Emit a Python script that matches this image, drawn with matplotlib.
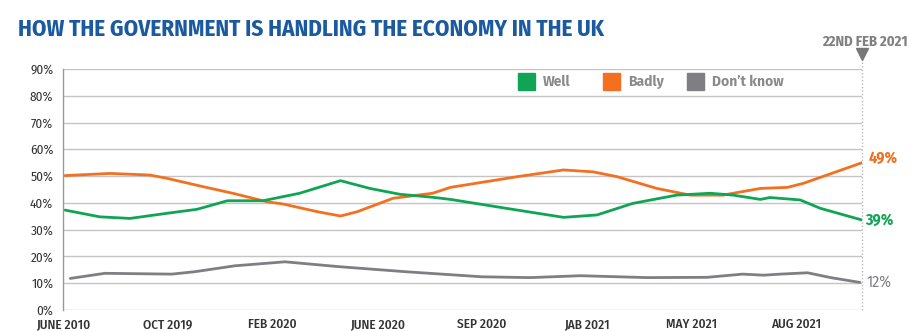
import matplotlib.pyplot as plt
from matplotlib import font_manager

# ================================
# DATA (x in tick units, 0 = JUNE 2010 tick)
# ================================
tick_labels = ['JUNE 2010', 'OCT 2019', 'FEB 2020', 'JUNE 2020',
               'SEP 2020', 'JAB 2021', 'MAY 2021', 'AUG 2021']
x_end = 7.63

well_x = [0.02, 0.35, 0.64, 0.99, 1.28, 1.57, 1.91, 2.26, 2.65, 2.93, 3.22,
          3.53, 3.70, 4.34, 4.78, 5.10, 5.44, 5.86, 6.18, 6.40, 6.66, 6.75,
          7.04, 7.23, 7.63]
well_y = [37.3, 34.8, 34.2, 36.1, 37.6, 40.8, 40.8, 43.6, 48.3, 45.4, 43.2,
          42.1, 41.3, 37.3, 34.6, 35.5, 39.8, 42.9, 43.6, 42.9, 41.3, 42.0,
          41.1, 38.0, 33.6]

badly_x = [0.02, 0.45, 0.83, 0.99, 1.31, 1.62, 1.95, 2.10, 2.43, 2.65, 2.81,
           3.15, 3.53, 3.70, 4.34, 4.78, 5.06, 5.29, 5.67, 5.99, 6.30, 6.66,
           6.92, 7.07, 7.63]
badly_y = [50.2, 51.0, 50.4, 49.2, 46.3, 43.6, 40.4, 39.6, 36.7, 35.1, 36.7,
           41.7, 43.6, 45.8, 49.8, 52.3, 51.6, 49.8, 45.4, 42.9, 42.9, 45.4,
           45.8, 47.3, 55.0]

dk_x = [0.07, 0.40, 1.04, 1.26, 1.64, 2.12, 2.63, 3.27, 4.00, 4.46, 4.94,
        5.58, 6.15, 6.49, 6.69, 6.85, 7.11, 7.33, 7.61]
dk_y = [11.8, 13.7, 13.4, 14.3, 16.5, 18.0, 16.2, 14.3, 12.4, 12.1, 12.8,
        12.1, 12.2, 13.4, 13.0, 13.4, 13.9, 12.1, 10.3]

end_labels = ['49%', '39%', '12%']
legend_labels = ['Well', 'Badly', 'Don’t know']
title = 'HOW THE GOVERNMENT IS HANDLING THE ECONOMY IN THE UK'
date_label = '22ND FEB 2021'

GREEN = '#10a555'
ORANGE = '#f37021'
GREY = '#7f7f83'
BLUE = '#1b5aa0'

# pick installed fonts
names = set(f.name for f in font_manager.fontManager.ttflist)
def pick(cands):
    for c in cands:
        if c in names:
            return c
    return 'DejaVu Sans'

COND = pick(['Fira Sans Condensed', 'Roboto Condensed', 'Barlow Semi Condensed',
             'PT Sans Narrow', 'Archivo Narrow', 'Liberation Sans'])
HUMAN = pick(['Fira Sans', 'Source Sans 3', 'Source Sans Pro', 'Open Sans'])
plt.rcParams['font.family'] = [COND, 'DejaVu Sans']

# ================================
# PLOT
# ================================
fig = plt.figure(figsize=(9.12, 3.31), dpi=100)
ax = fig.add_axes([63/912, 1 - 310/331, (862-63)/912, (310-69)/331])

ax.plot(dk_x, dk_y, color=GREY, lw=2.0, solid_capstyle='round')
ax.plot(badly_x, badly_y, color=ORANGE, lw=2.0, solid_capstyle='round')
ax.plot(well_x, well_y, color=GREEN, lw=2.0, solid_capstyle='round')

ax.set_xlim(0, x_end)
ax.set_ylim(0, 90)
ax.set_yticks(range(0, 91, 10))
ax.set_yticklabels([f'{v}%' for v in range(0, 91, 10)])
ax.set_xticks(range(len(tick_labels)))
ax.set_xticklabels(tick_labels, fontweight='medium')
ax.tick_params(length=0, labelsize=9.5, colors='#333333')
ax.tick_params(axis='x', pad=6)
ax.tick_params(axis='y', pad=7)
ax.yaxis.grid(True, color='#c4c4c4', lw=1)
ax.set_axisbelow(True)
for s in ['top', 'right', 'bottom']:
    ax.spines[s].set_visible(False)
ax.spines['left'].set_color('#999999')
ax.spines['left'].set_linewidth(1)

# dotted marker line for 22nd Feb 2021
ax.plot([x_end, x_end], [0, 93], color='#bbbbbb', lw=1, ls=(0, (1, 1.5)),
        clip_on=False)
ax.plot([x_end], [95.5], marker='v', color='#777777', markersize=8,
        clip_on=False)
t_date = fig.text(908/912, 1 - 42/331, date_label, ha='right', va='center',
                  fontsize=10.5, color='#808080', fontweight='bold')

# end labels
ax.annotate(end_labels[0], (x_end, badly_y[-1]), xytext=(5, 3),
            textcoords='offset points', color=ORANGE, fontweight='bold',
            fontsize=11.5, va='center', annotation_clip=False)
ax.annotate(end_labels[1], (x_end, well_y[-1]), xytext=(2, 0),
            textcoords='offset points', color=GREEN, fontweight='bold',
            fontsize=11.5, va='center', annotation_clip=False)
ax.annotate(end_labels[2], (x_end, dk_y[-1]), xytext=(3, 0),
            textcoords='offset points', color=GREY,
            fontsize=11.5, va='center', annotation_clip=False)

# legend
for lx, col, lab in zip([518, 603, 687], [GREEN, ORANGE, GREY], legend_labels):
    fig.patches.append(plt.Rectangle((lx/912, 1 - 90/331), 17/912, 17/331,
                                     transform=fig.transFigure, color=col))
    fig.text((lx + 25)/912, 1 - 82/331, lab, fontsize=10, color='#8a8a8a',
             fontweight='bold', va='center', family=[HUMAN, 'DejaVu Sans'])

t_title = fig.text(18/912, 1 - 29/331, title,
                   fontsize=15, color=BLUE, fontweight='bold', va='center')

# fit title width to the reference; only shrink the date label
r = fig.canvas.get_renderer()
cur = t_title.get_window_extent(renderer=r).width
t_title.set_fontsize(t_title.get_fontsize() * 588 / cur)
cur = t_date.get_window_extent(renderer=r).width
if cur > 90:
    t_date.set_fontsize(t_date.get_fontsize() * 90 / cur)

plt.savefig('out.png', dpi=100)
